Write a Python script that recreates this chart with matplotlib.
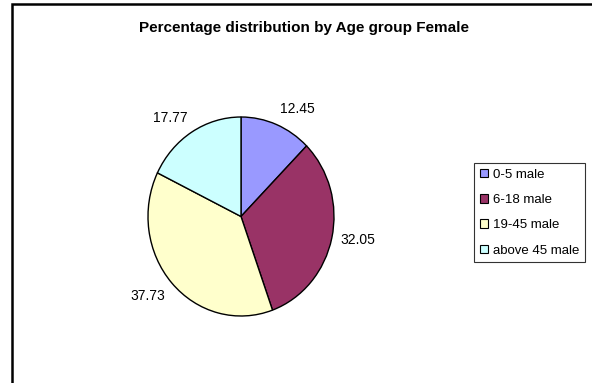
import numpy as np
import matplotlib
matplotlib.use("Agg")
import matplotlib.pyplot as plt
from matplotlib.patches import Rectangle, Patch

plt.rcParams['font.family'] = ['Liberation Sans', 'DejaVu Sans']

# Data
categories = ["0-5 male", "6-18 male", "19-45 male", "above 45 male"]
values = [12.45, 32.05, 37.73, 17.77]
colors = ["#9999FF", "#993366", "#FFFFCC", "#CCFFFF"]
title = "Percentage distribution by Age group Female"

W, H = 592, 383
fig = plt.figure(figsize=(W / 100, H / 100), dpi=100)
fig.patch.set_facecolor("white")

# Chart area border (runs off the right and bottom edges)
fig.add_artist(Rectangle((11.5 / W, -0.05), 1.2, (H - 4) / H + 0.05,
                         transform=fig.transFigure, fill=False,
                         edgecolor="black", linewidth=1.8))

fig.text(304 / W, 1 - 28 / H, title, ha="center", va="center",
         fontsize=11, fontweight="bold")

# Pie plot area (slightly taller than wide)
left, right, top, bottom = 148, 334, 117, 316
ax = fig.add_axes([left / W, 1 - bottom / H, (right - left) / W, (bottom - top) / H])
wedges, _ = ax.pie(values, colors=colors, startangle=90, counterclock=False,
                   wedgeprops=dict(edgecolor="black", linewidth=1.0))
ax.set_aspect("auto")
ax.set_xlim(-1, 1)
ax.set_ylim(-1, 1)
ax.axis("off")

# Value labels just outside each wedge
for w, v in zip(wedges, values):
    ang = np.deg2rad((w.theta1 + w.theta2) / 2)
    c, s = np.cos(ang), np.sin(ang)
    d = 1.09
    ha = "left" if c > 0 else "right"
    if abs(s) < 0.4:
        va = "center"
    else:
        va = "bottom" if s > 0 else "top"
    ax.text(d * c, d * s, f"{v:.2f}", ha=ha, va=va, fontsize=10, clip_on=False)

handles = [Patch(facecolor=col, edgecolor="black", linewidth=0.8) for col in colors]
leg = fig.legend(handles, categories, loc="upper left",
                 bbox_to_anchor=(474 / W, 1 - 163 / H),
                 fontsize=9.5, frameon=True, fancybox=False,
                 handlelength=0.6, handleheight=0.6, handletextpad=0.4,
                 labelspacing=1.0, borderpad=0.45, borderaxespad=0)
leg.get_frame().set_edgecolor("black")
leg.get_frame().set_linewidth(0.8)

fig.savefig("out.png", dpi=100)
